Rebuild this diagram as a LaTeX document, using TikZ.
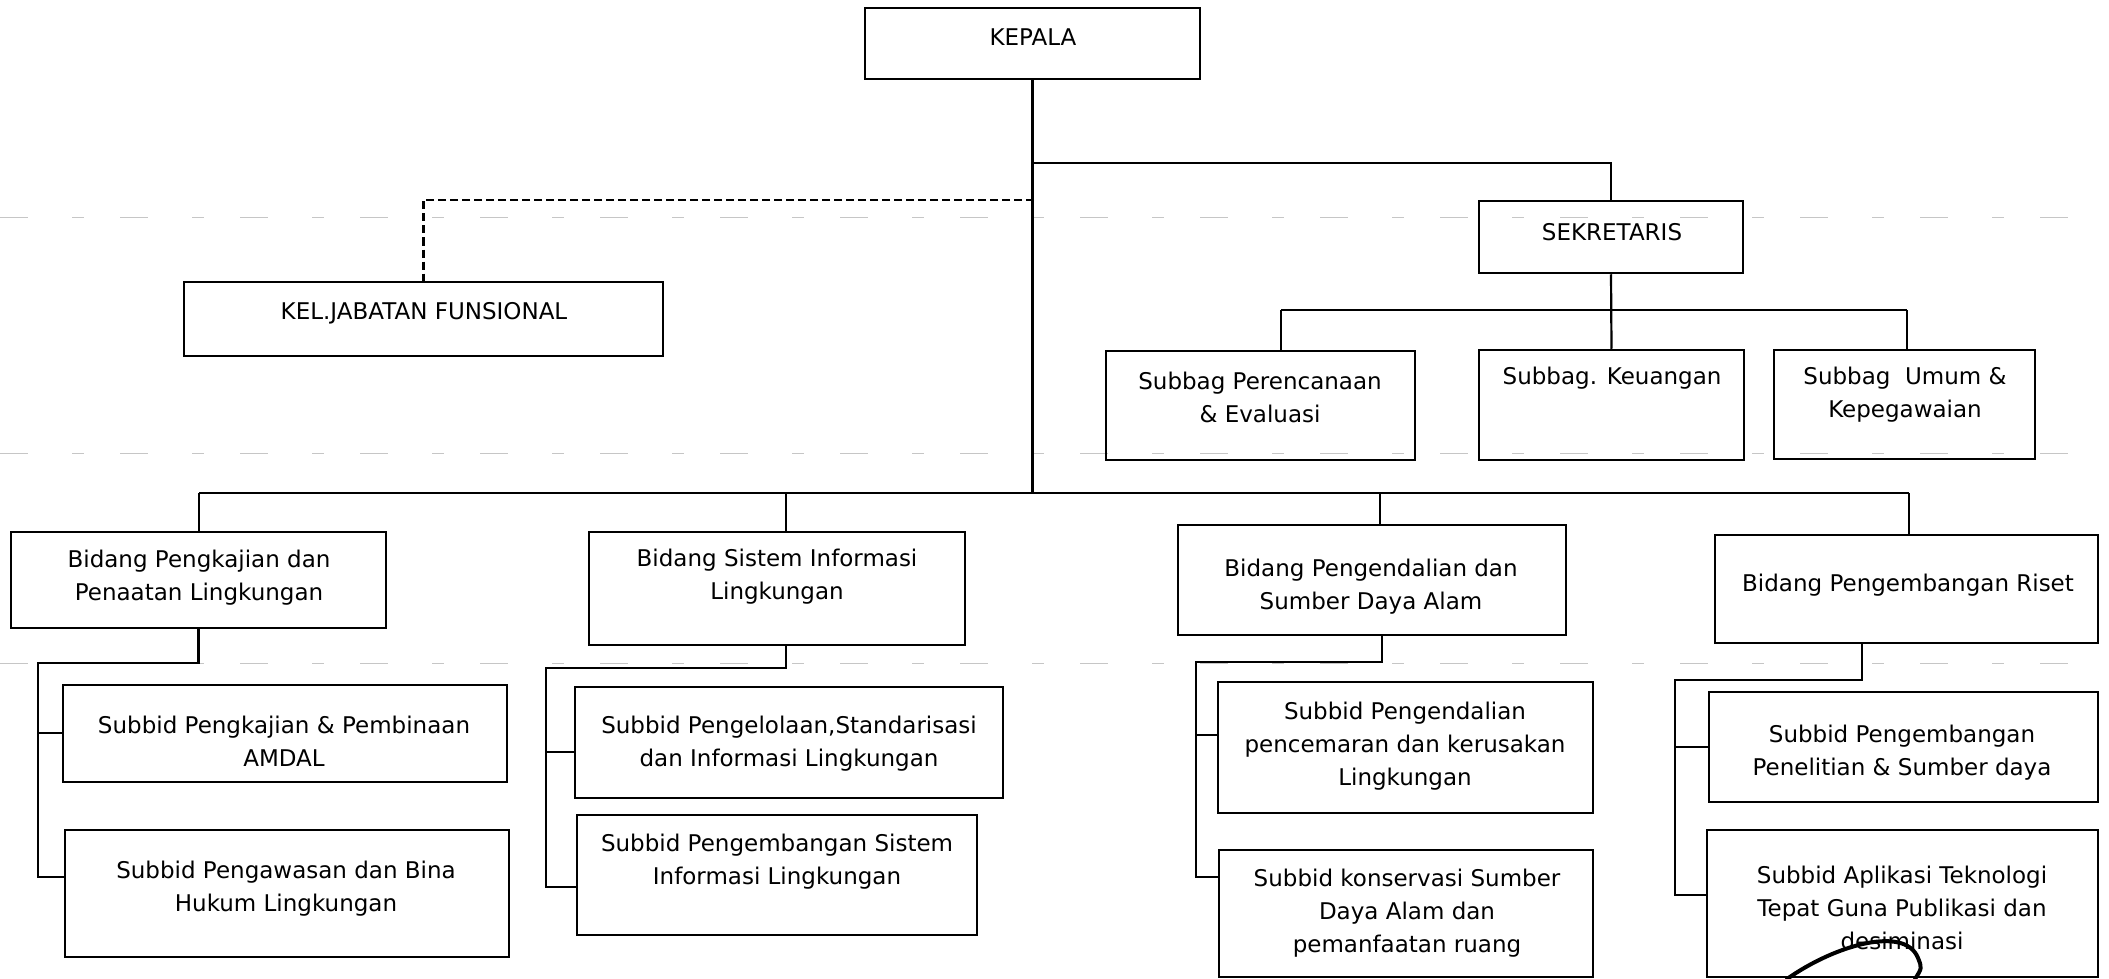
\documentclass[tikz,border=0pt]{standalone}
\usepackage{fontspec}
\setmainfont{DejaVu Sans}
\usetikzlibrary{fit}
\tikzset{
  box/.style={draw, line width=1.25pt, inner sep=0pt},
  txt/.style={align=center, inner sep=0pt, font=\fontsize{11.5}{16.5}\selectfont},
  conn/.style={line width=1.1pt},
  dconn/.style={line width=1.1pt, dash pattern=on 4pt off 2pt},
  scanline/.style={gray!45, line width=0.5pt, dash pattern=on 14pt off 22pt on 6pt off 18pt},
}
\begin{document}
\begin{tikzpicture}[x=0.5pt, y=-0.5pt]
\useasboundingbox (0,0) rectangle (2109,979);
\fill[white] (0,0) rectangle (2109,979);
% faint scan lines
\draw[scanline] (0,217) -- (2109,217);
\draw[scanline] (0,453) -- (2109,453);
\draw[scanline] (0,663) -- (2109,663);

% boxes
\node[box, fit={(865,8) (1200,79)}] (kepala) {};
\node[txt] (tkepala) at (1033,37) {KEPALA};
\node[box, fit={(1479,201) (1743,273)}] (sek) {};
\node[txt] (tsek) at (1612,232) {SEKRETARIS};
\node[box, fit={(184,282) (663,356)}] (kel) {};
\node[txt] (tkel) at (424,313) {KEL.JABATAN FUNSIONAL};

\node[box, fit={(1106,351) (1415,460)}] (sb1) {};
\node[txt] (tsb1) at (1260,397) {Subbag Perencanaan\\\& Evaluasi};
\node[box, fit={(1479,350) (1744,460)}] (sb2) {};
\node[txt] (tsb2) at (1612,378) {Subbag. Keuangan};
\node[box, fit={(1774,350) (2035,459)}] (sb3) {};
\node[txt] (tsb3) at (1905,395) {Subbag\ \ Umum \&\\Kepegawaian};

\node[box, fit={(11,532) (386,628)}] (bid1) {};
\node[txt] (tbid1) at (199,578) {Bidang Pengkajian dan\\Penaatan Lingkungan};
\node[box, fit={(589,532) (965,645)}] (bid2) {};
\node[txt] (tbid2) at (777,577) {Bidang Sistem Informasi\\Lingkungan};
\node[box, fit={(1178,525) (1566,635)}] (bid3) {};
\node[txt] (tbid3) at (1371,587) {Bidang Pengendalian dan\\Sumber Daya Alam};
\node[box, fit={(1715,535) (2098,643)}] (bid4) {};
\node[txt] (tbid4) at (1908,585) {Bidang Pengembangan Riset};

\node[box, fit={(63,685) (507,782)}] (s1a) {};
\node[txt] (ts1a) at (284,741) {Subbid Pengkajian \& Pembinaan\\AMDAL};
\node[box, fit={(65,830) (509,957)}] (s1b) {};
\node[txt] (ts1b) at (286,889) {Subbid Pengawasan dan Bina\\Hukum Lingkungan};
\node[box, fit={(575,687) (1003,798)}] (s2a) {};
\node[txt] (ts2a) at (789,744) {Subbid Pengelolaan,Standarisasi\\dan Informasi Lingkungan};
\node[box, fit={(577,815) (977,935)}] (s2b) {};
\node[txt] (ts2b) at (777,862) {Subbid Pengembangan Sistem\\Informasi Lingkungan};
\node[box, fit={(1218,682) (1593,813)}] (s3a) {};
\node[txt] (ts3a) at (1405,746) {Subbid Pengendalian\\pencemaran dan kerusakan\\Lingkungan};
\node[box, fit={(1219,850) (1593,977)}] (s3b) {};
\node[txt] (ts3b) at (1407,913) {Subbid konservasi Sumber\\Daya Alam dan\\pemanfaatan ruang};
\node[box, fit={(1709,692) (2098,802)}] (s4a) {};
\node[txt] (ts4a) at (1902,753) {Subbid Pengembangan\\Penelitian \& Sumber daya};
\node[box, fit={(1707,830) (2098,977)}] (s4b) {};
\node[txt] (ts4b) at (1902,908) {Subbid Aplikasi Teknologi\\Tepat Guna Publikasi dan\\desiminasi};

% connectors from KEPALA
\coordinate (jS) at (1034,163);
\coordinate (jK) at (1034,200);
\coordinate (barL) at (199,493);
\coordinate (barR) at (1909,493);
\coordinate (t2) at (786,493);
\coordinate (t3) at (1380,493);
\draw[conn] (kepala.south) -- (kepala.south |- barL);
\draw[conn] (jS) -| (sek.north);
\draw[dconn] (jK) -| (kel.north);
\draw[conn] (barL) -- (barR);
\draw[conn] (barL) -- (barL |- bid1.north);
\draw[conn] (t2) -- (t2 |- bid2.north);
\draw[conn] (t3) -- (t3 |- bid3.north);
\draw[conn] (barR) -- (barR |- bid4.north);

% sekretaris branch
\coordinate (sbL) at (1281,310);
\coordinate (sbR) at (1907,310);
\draw[conn] (sek.south) -- (sb2.north);
\draw[conn] (sbL) -- (sbR);
\draw[conn] (sbL) -- (sbL |- sb1.north);
\draw[conn] (sbR) -- (sbR |- sb3.north);

% bidang 1
\coordinate (k1) at (38,663);
\coordinate (k1a) at (38,733);
\coordinate (k1b) at (38,877);
\draw[conn] (bid1.south) |- (k1) -- (k1b) -- (k1b -| s1b.west);
\draw[conn] (k1a) -- (k1a -| s1a.west);

% bidang 2
\coordinate (k2) at (546,668);
\coordinate (k2a) at (546,752);
\coordinate (k2b) at (546,887);
\draw[conn] (t2 |- bid2.south) |- (k2) -- (k2b) -- (k2b -| s2b.west);
\draw[conn] (k2a) -- (k2a -| s2a.west);

% bidang 3
\coordinate (d3) at (1382,0);
\coordinate (k3) at (1196,662);
\coordinate (k3a) at (1196,735);
\coordinate (k3b) at (1196,877);
\draw[conn] (d3 |- bid3.south) |- (k3) -- (k3b) -- (k3b -| s3b.west);
\draw[conn] (k3a) -- (k3a -| s3a.west);

% bidang 4
\coordinate (d4) at (1862,0);
\coordinate (k4) at (1675,680);
\coordinate (k4a) at (1675,747);
\coordinate (k4b) at (1675,895);
\draw[conn] (d4 |- bid4.south) |- (k4) -- (k4b) -- (k4b -| s4b.west);
\draw[conn] (k4a) -- (k4a -| s4a.west);

% pen mark
\draw[line width=2pt, line cap=round] (1787,979) .. controls (1835,945) and (1905,925) .. (1918,958) .. controls (1922,968) .. (1915,979);
\end{tikzpicture}
\end{document}
